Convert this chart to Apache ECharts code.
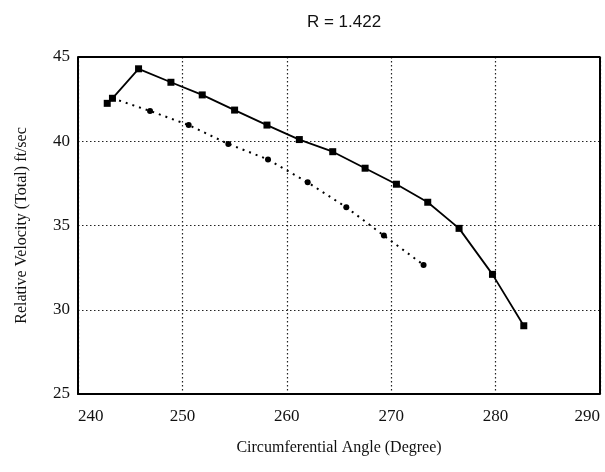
<!DOCTYPE html>
<html><head><meta charset="utf-8">
<script src="https://cdn.jsdelivr.net/npm/echarts@6/dist/echarts.min.js"></script>
<style>html,body{margin:0;padding:0;background:#fff}#c{width:605px;height:472px}</style>
</head><body><div id="c"></div>
<script>
const titleText = "R = 1.422";
const xTicks = [240, 250, 260, 270, 280, 290];
const yTicks = [25, 30, 35, 40, 45];
const solidX = [242.8, 243.3, 245.8, 248.9, 251.9, 255.0, 258.1, 261.2, 264.4, 267.5, 270.5, 273.5, 276.5, 279.7, 282.7];
const solidY = [42.25, 42.55, 44.3, 43.5, 42.75, 41.85, 40.96, 40.1, 39.38, 38.4, 37.45, 36.38, 34.83, 32.1, 29.05];
const dotX = [243.3, 246.9, 250.6, 254.4, 258.2, 262.0, 265.7, 269.3, 273.1];
const dotY = [42.55, 41.8, 40.96, 39.84, 38.92, 37.56, 36.08, 34.4, 32.66];

const chart = echarts.init(document.getElementById('c'));
const serif = 'Liberation Serif';
chart.setOption({
  animation: false,
  title: {text: titleText, left: 339, top: 9, textAlign: 'center',
    textStyle: {fontFamily: 'Liberation Sans', fontSize: 17, fontWeight: 'normal', color: '#111'}},
  grid: {left: 78, right: 5, top: 57, bottom: 78},
  xAxis: {type: 'value', min: xTicks[0], max: xTicks[xTicks.length-1], interval: 10,
    name: 'Circumferential Angle (Degree)', nameLocation: 'middle', nameGap: 46,
    nameTextStyle: {fontFamily: serif, fontSize: 16, color: '#111'},
    axisLine: {show: true, lineStyle: {color: '#000', width: 2}},
    axisTick: {show: false},
    axisLabel: {fontFamily: serif, fontSize: 17, color: '#111', margin: 14,
      alignMinLabel: 'left', alignMaxLabel: 'right'},
    splitLine: {show: true, lineStyle: {color: '#222', type: [1.5, 2.5], width: 1.2}}},
  yAxis: {type: 'value', min: yTicks[0], max: yTicks[yTicks.length-1], interval: 5,
    name: 'Relative Velocity (Total) ft/sec', nameLocation: 'middle', nameGap: 48,
    nameTextStyle: {fontFamily: serif, fontSize: 16, color: '#111'},
    axisLine: {show: true, lineStyle: {color: '#000', width: 2}},
    axisTick: {show: false},
    axisLabel: {fontFamily: serif, fontSize: 17, color: '#111', margin: 8},
    splitLine: {show: true, lineStyle: {color: '#222', type: [1.5, 2.5], width: 1.2}}},
  series: [
    {type: 'line', data: solidX.map((x, i) => [x, solidY[i]]),
     symbol: 'rect', symbolSize: 7, lineStyle: {color: '#000', width: 1.8},
     itemStyle: {color: '#000'}},
    {type: 'line', data: dotX.map((x, i) => [x, dotY[i]]),
     symbol: 'circle', symbolSize: 6, lineStyle: {color: '#000', width: 2, type: [2, 5]},
     itemStyle: {color: '#000'}},
    {type: 'line', data: [[xTicks[0], yTicks[yTicks.length-1]], [xTicks[xTicks.length-1], yTicks[yTicks.length-1]], [xTicks[xTicks.length-1], yTicks[0]]],
     symbol: 'none', lineStyle: {color: '#000', width: 2}, silent: true}
  ]
});
</script></body></html>
